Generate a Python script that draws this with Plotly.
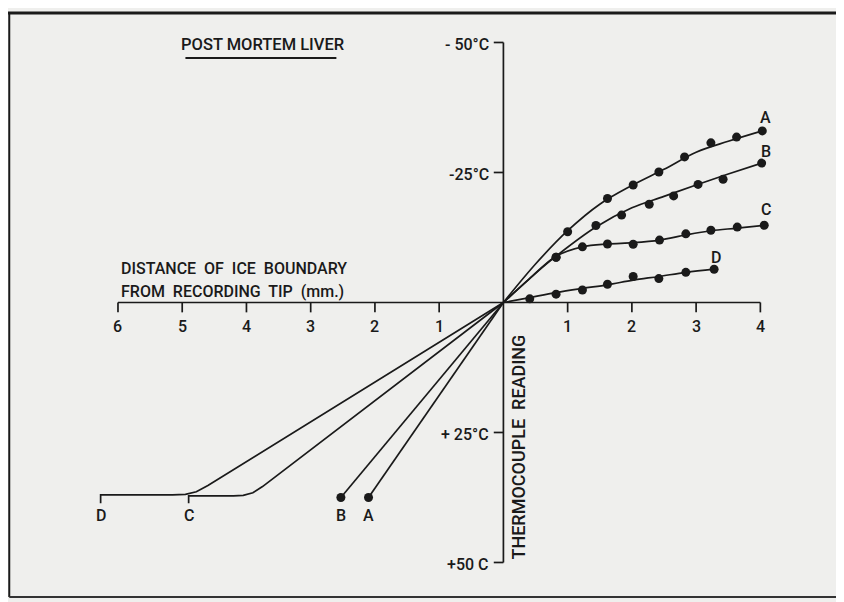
import plotly.graph_objects as go

# ---------------- data ----------------
# distance of ice boundary from recording tip (mm); right side positive, left side negative
# temperature in °C (negative = frozen side, drawn upward)

# measured points (right half)
A_x = [1.00, 1.62, 2.02, 2.42, 2.82, 3.23, 3.63, 4.03]
A_t = [-13.6, -20.0, -22.6, -25.1, -28.0, -30.7, -31.8, -33.0]
B_x = [0.82, 1.44, 1.84, 2.27, 2.65, 3.03, 3.42, 4.02]
B_t = [-8.7, -14.8, -16.8, -18.9, -20.5, -22.7, -23.7, -26.8]
C_x = [0.82, 1.23, 1.62, 2.02, 2.43, 2.84, 3.23, 3.64, 4.06]
C_t = [-8.7, -10.7, -11.25, -11.2, -12.0, -13.2, -13.9, -14.5, -14.85]
D_x = [0.41, 0.82, 1.23, 1.62, 2.02, 2.42, 2.84, 3.28]
D_t = [-0.7, -1.6, -2.4, -3.5, -5.0, -4.6, -5.8, -6.4]

# fitted curves (right half)
A_fit_x = [0, 0.5, 1.0, 1.5, 2.0, 2.5, 3.0, 3.5, 4.03]
A_fit_t = [0, -7.4, -13.8, -18.9, -22.5, -25.6, -28.9, -31.0, -33.0]
B_fit_x = [0, 0.5, 0.82, 1.44, 2.0, 2.5, 3.0, 3.5, 4.02]
B_fit_t = [0, -5.6, -8.9, -14.5, -18.2, -20.4, -22.6, -24.7, -26.8]
C_fit_x = [0, 0.4, 0.82, 1.23, 1.62, 2.02, 2.43, 2.84, 3.23, 3.64, 4.06]
C_fit_t = [0, -4.5, -8.9, -10.7, -11.25, -11.5, -12.0, -13.0, -13.8, -14.3, -14.85]
D_fit_x = [0, 0.41, 0.82, 1.23, 1.62, 2.02, 2.42, 2.84, 3.28]
D_fit_t = [0, -0.95, -1.9, -2.7, -3.4, -4.3, -5.0, -5.8, -6.4]

# left half (thawed side)
A_left_x = [0, -2.10]
A_left_t = [0, 37.5]
B_left_x = [0, -2.53]
B_left_t = [0, 37.5]
C_left_x = [0, -3.75, -3.9, -4.05, -4.2, -4.9, -4.9]
C_left_t = [0, 35.4, 36.6, 37.1, 37.2, 37.2, 38.6]
D_left_x = [0, -4.6, -4.78, -4.95, -5.15, -6.27, -6.27]
D_left_t = [0, 35.2, 36.4, 36.9, 37.0, 37.0, 38.6]

# axes
x_tick_vals = [-6, -5, -4, -3, -2, -1, 1, 2, 3, 4]
x_tick_text = ["6", "5", "4", "3", "2", "1", "1", "2", "3", "4"]
y_tick_vals = [-50, -25, 25, 50]
y_tick_text = ["- 50°C", "-25°C", "+ 25°C", "+50 C"]

curve_names = ["A", "B", "C", "D"]
right_label_x = [4.08, 4.08, 4.08, 3.31]
right_label_t = [-35.5, -29.0, -17.8, -8.6]
left_label_x = [-2.10, -2.53, -4.90, -6.27]
left_label_t = [41.0, 41.0, 41.0, 41.0]

# ---------------- figure ----------------
INK = "#1a1a1a"
BG = "#efefed"
FONT = "Roboto, Liberation Sans, sans-serif"

fig = go.Figure()

def line(x, y, shape="linear"):
    fig.add_trace(go.Scatter(x=x, y=y, mode="lines", line=dict(color=INK, width=1.7, shape=shape, smoothing=1.0),
                             hoverinfo="skip", showlegend=False))

def pts(x, y):
    fig.add_trace(go.Scatter(x=x, y=y, mode="markers", marker=dict(color=INK, size=9),
                             hoverinfo="skip", showlegend=False))

# axes lines
line([x_tick_vals[0], x_tick_vals[-1]], [0, 0])
line([0, 0], [y_tick_vals[0], y_tick_vals[-1]])
# x ticks (downward)
tx, ty = [], []
for v in x_tick_vals:
    tx += [v, v, None]
    ty += [0, 1.9, None]
line(tx, ty)
# y ticks (leftward)
ux, uy = [], []
for v in y_tick_vals:
    ux += [0, -0.15, None]
    uy += [v, v, None]
line(ux, uy)

# fitted curves
for fx, ft in [(A_fit_x, A_fit_t), (B_fit_x, B_fit_t), (C_fit_x, C_fit_t), (D_fit_x, D_fit_t)]:
    line(fx, ft, shape="spline")
# left lines
for lx, lt in [(A_left_x, A_left_t), (B_left_x, B_left_t), (C_left_x, C_left_t), (D_left_x, D_left_t)]:
    line(lx, lt)
# points
for px_, pt_ in [(A_x, A_t), (B_x, B_t), (C_x, C_t), (D_x, D_t)]:
    pts(px_, pt_)
pts([A_left_x[-1], B_left_x[-1]], [A_left_t[-1], B_left_t[-1]])

F = dict(size=16, weight=500)
ann = []
for v, t in zip(x_tick_vals, x_tick_text):
    ann.append(dict(x=v, y=4.7, text=t, showarrow=False, xanchor="center", yanchor="middle", font=F))
for v, t in zip(y_tick_vals, y_tick_text):
    ann.append(dict(x=-0.2, y=v + 0.3, text=t, showarrow=False, xanchor="right", yanchor="middle", font=F))
for n, x, t in zip(curve_names, right_label_x, right_label_t):
    ann.append(dict(x=x, y=t, text=n, showarrow=False, xanchor="center", yanchor="middle", font=F))
for n, x, t in zip(curve_names, left_label_x, left_label_t):
    ann.append(dict(x=x, y=t, text=n, showarrow=False, xanchor="center", yanchor="middle", font=F))

ann.append(dict(x=-5.99, y=-6.6, text="DISTANCE  OF  ICE  BOUNDARY", showarrow=False,
                xanchor="left", yanchor="middle", font=F))
ann.append(dict(x=-5.99, y=-2.2, text="FROM  RECORDING  TIP  (mm.)", showarrow=False,
                xanchor="left", yanchor="middle", font=F))
ann.append(dict(x=0.22, y=27.8, text="THERMOCOUPLE  READING", showarrow=False, textangle=-90,
                xanchor="center", yanchor="middle", font=dict(size=18, weight=500)))
ann.append(dict(x=-3.74, y=-49.6, text="POST MORTEM LIVER", showarrow=False,
                xanchor="center", yanchor="middle", font=dict(size=16.5, weight=500)))

shapes = [
    # underline of title
    dict(type="line", xref="x", yref="y", x0=-4.95, x1=-2.6, y0=-47.0, y1=-47.0, line=dict(color=INK, width=2)),
    # frame
    dict(type="line", xref="paper", yref="paper", x0=0, x1=1, y0=0.9916, y1=0.9916, line=dict(color=INK, width=3)),
    dict(type="line", xref="paper", yref="paper", x0=0.0015, x1=0.0015, y0=0.0084, y1=0.9916, line=dict(color=INK, width=2)),
    dict(type="line", xref="paper", yref="paper", x0=0.0015, x1=1, y0=0.0084, y1=0.0084, line=dict(color="#333333", width=2)),
    dict(type="line", xref="paper", yref="paper", x0=0.9964, x1=0.9964, y0=0.0084, y1=0.9916, line=dict(color="#c8c8c6", width=1)),
]

fig.update_layout(
    width=836, height=594,
    margin=dict(l=0, r=0, t=0, b=0),
    paper_bgcolor=BG, plot_bgcolor=BG,
    font=dict(family=FONT, color=INK, size=16),
    xaxis=dict(range=[-7.712, 5.302], visible=False, fixedrange=True),
    yaxis=dict(range=[57.6, -56.63], visible=False, fixedrange=True),
    annotations=ann, shapes=shapes, showlegend=False,
)

fig.write_html("out.html", config={"displayModeBar": False})
